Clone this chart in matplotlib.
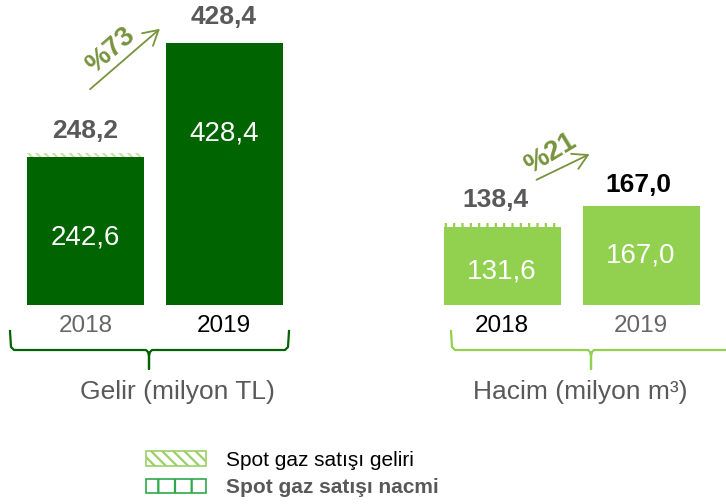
import matplotlib
matplotlib.use("Agg")
import matplotlib.pyplot as plt
from matplotlib.patches import Patch, FancyArrowPatch
from matplotlib.lines import Line2D

plt.rcParams['font.family'] = ['Liberation Sans', 'DejaVu Sans']
plt.rcParams['hatch.linewidth'] = 1.6

years = ["2018", "2019"]
gelir_base = [242.6, 428.4]
gelir_total = [248.2, 428.4]
hacim_base = [131.6, 167.0]
hacim_total = [138.4, 167.0]
growth_labels = ["%73", "%21"]
legend_labels = ["Spot gaz satışı geliri", "Spot gaz satışı nacmi"]
panel_titles = ["Gelir (milyon TL)", "Hacim (milyon m³)"]

W, H = 726, 504
fig = plt.figure(figsize=(W / 100, H / 100), dpi=100)

def fx(px):
    return px / W

def fy(py):
    return 1 - py / H

DARK = "#006400"
LIGHT = "#92D050"
GRAY = "#595959"
OLIVE = "#77933C"

# left axes
axL = fig.add_axes([fx(10), fy(305), fx(290), 305 / H])
axL.set_xlim(-0.543, 1.543)
axL.set_ylim(0, 305 / (262 / 428.4))
# right axes
axR = fig.add_axes([fx(430), fy(305), fx(296), 305 / H])
axR.set_xlim(-0.5216, 1.608)
axR.set_ylim(0, 305 / (99 / 167.0))

bw = 117 / 139
xs = [0, 1]

axL.bar(xs, gelir_base, width=bw, color=DARK, zorder=2)
extraL = [t - b for t, b in zip(gelir_total, gelir_base)]
axL.bar(xs, extraL, bottom=gelir_base, width=bw, facecolor="white",
        edgecolor="#C6E3A4", hatch="\\\\\\\\", linewidth=0, zorder=2)

axR.bar(xs, hacim_base, width=bw, color=LIGHT, zorder=2)
extraR = [t - b for t, b in zip(hacim_total, hacim_base)]
axR.bar(xs, extraR, bottom=hacim_base, width=bw, facecolor="white",
        edgecolor=LIGHT, hatch="||", linewidth=0, zorder=2)

for ax in (axL, axR):
    ax.axis("off")

def ftext(px, py, s, **kw):
    fig.text(fx(px), fy(py), s, ha="center", va="center", **kw)

def fmt(v):
    return f"{v:.1f}".replace(".", ",")

# values inside bars
ftext(85, 238, fmt(gelir_base[0]), color="white", fontsize=20)
ftext(224, 133, fmt(gelir_base[1]), color="white", fontsize=20)
ftext(502, 272, fmt(hacim_base[0]), color="white", fontsize=20)
ftext(641, 256, fmt(hacim_base[1]), color="white", fontsize=20)

# totals above
ftext(85, 131, fmt(gelir_total[0]), color=GRAY, fontsize=19, fontweight="bold")
ftext(224, 17, fmt(gelir_total[1]), color=GRAY, fontsize=19, fontweight="bold")
ftext(495, 200, fmt(hacim_total[0]), color=GRAY, fontsize=19, fontweight="bold")
ftext(638, 185, fmt(hacim_total[1]), color="black", fontsize=19, fontweight="bold")

# year labels
ftext(86, 326, years[0], color="#666666", fontsize=17.5)
ftext(224, 326, years[1], color="black", fontsize=17.5)
ftext(502, 326, years[0], color="black", fontsize=17.5)
ftext(641, 326, years[1], color="#666666", fontsize=17.5)

# titles
ftext(177, 392, panel_titles[0], color=GRAY, fontsize=19)
ftext(580, 392, panel_titles[1], color=GRAY, fontsize=19)

# braces
def brace(x0, x1, xm, color):
    pts_x = [x0, x0 + 1, x0 + 4, xm - 3, xm - 1, xm, xm, xm, xm + 1, xm + 3, x1 - 4, x1 - 1, x1]
    pts_y = [331, 347, 350, 350, 352, 356, 369, 356, 352, 350, 350, 347, 331]
    fig.add_artist(Line2D([fx(p) for p in pts_x], [fy(p) for p in pts_y],
                          color=color, lw=1.6, transform=fig.transFigure))

brace(10, 289, 149, DARK)
brace(451, 735, 591, LIGHT)

# growth arrows
for (x0, y0, x1, y1), lab, (tx, ty, rot) in zip(
        [(88, 91, 162, 27), (534, 181, 592, 153)],
        growth_labels,
        [(111, 50, 41), (550, 154, 31)]):
    arr = FancyArrowPatch((fx(x0), fy(y0)), (fx(x1), fy(y1)), transform=fig.transFigure,
                          arrowstyle="->,head_length=7,head_width=4", color=OLIVE, lw=1.3,
                          mutation_scale=1.5)
    fig.add_artist(arr)
    ftext(tx, ty, lab, color=OLIVE, fontsize=20, fontweight="bold", rotation=rot)

# legend
handles = [Patch(facecolor="white", edgecolor="#9BD067", hatch="\\\\\\", linewidth=1.2),
           Patch(facecolor="white", edgecolor="#2EA84A", hatch="|", linewidth=1.2)]
leg = fig.legend(handles, legend_labels, loc="center left",
                 bbox_to_anchor=(fx(127), fy(474)), frameon=False, fontsize=15,
                 handlelength=2.9, handleheight=0.7, handletextpad=0.95, labelspacing=0.4)
texts = leg.get_texts()
texts[0].set_color("black")
texts[1].set_color(GRAY)
texts[1].set_fontweight("bold")

fig.savefig("out.png", dpi=100)
